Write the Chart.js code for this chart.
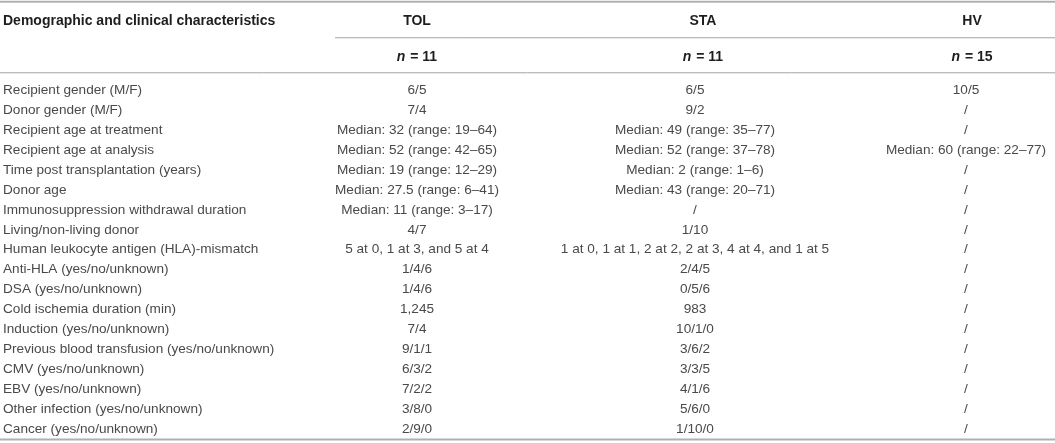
<!DOCTYPE html>
<html>
<head>
<meta charset="utf-8">
<script src="https://cdn.jsdelivr.net/npm/chart.js@4.4.1/dist/chart.umd.min.js"></script>
<style>
    body { margin: 0; background: #fff; }
    #wrap { width: 1055px; height: 443px; }
</style>
</head>
<body>
<div id="wrap"><canvas id="myChart" width="1055" height="443"></canvas></div>
<script>
// table content
const headerTitle = "Demographic and clinical characteristics";
const groupNames = ["TOL", "STA", "HV"];
const groupSizes = [11, 11, 15];

const characteristics = [
    "Recipient gender (M/F)",
    "Donor gender (M/F)",
    "Recipient age at treatment",
    "Recipient age at analysis",
    "Time post transplantation (years)",
    "Donor age",
    "Immunosuppression withdrawal duration",
    "Living/non-living donor",
    "Human leukocyte antigen (HLA)-mismatch",
    "Anti-HLA (yes/no/unknown)",
    "DSA (yes/no/unknown)",
    "Cold ischemia duration (min)",
    "Induction (yes/no/unknown)",
    "Previous blood transfusion (yes/no/unknown)",
    "CMV (yes/no/unknown)",
    "EBV (yes/no/unknown)",
    "Other infection (yes/no/unknown)",
    "Cancer (yes/no/unknown)"
];

const tolValues = [
    "6/5", "7/4",
    "Median: 32 (range: 19–64)",
    "Median: 52 (range: 42–65)",
    "Median: 19 (range: 12–29)",
    "Median: 27.5 (range: 6–41)",
    "Median: 11 (range: 3–17)",
    "4/7",
    "5 at 0, 1 at 3, and 5 at 4",
    "1/4/6", "1/4/6", "1,245", "7/4", "9/1/1", "6/3/2", "7/2/2", "3/8/0", "2/9/0"
];

const staValues = [
    "6/5", "9/2",
    "Median: 49 (range: 35–77)",
    "Median: 52 (range: 37–78)",
    "Median: 2 (range: 1–6)",
    "Median: 43 (range: 20–71)",
    "/",
    "1/10",
    "1 at 0, 1 at 1, 2 at 2, 2 at 3, 4 at 4, and 1 at 5",
    "2/4/5", "0/5/6", "983", "10/1/0", "3/6/2", "3/3/5", "4/1/6", "5/6/0", "1/10/0"
];

const hvValues = [
    "10/5", "/", "/",
    "Median: 60 (range: 22–77)",
    "/", "/", "/", "/", "/", "/", "/", "/", "/", "/", "/", "/", "/", "/"
];

// layout (scale units: x = pixels, y = row index)
const Y_MIN = -4.548;
const Y_MAX = 17.714;
const HEADER_Y = -3.5;
const N_Y = -1.69;
const LABEL_X = 3;
const DATA_X = [417, 695, 966];
const HEAD_X = [417, 703, 972];
const RULES = [
    { y: -4.46, x0: 0, x1: 1055, w: 2, c: "#b0b0b0" },
    { y: -2.65, x0: 335, x1: 1055, w: 1, c: "#a4a4a4" },
    { y: -0.89, x0: 0, x1: 1055, w: 1, c: "#a4a4a4" },
    { y: 17.54, x0: 0, x1: 1055, w: 2, c: "#b0b0b0" }
];

const BODY_FONT = "13.6px 'Liberation Sans', Arial, sans-serif";
const BOLD_FONT = "bold 14px 'Liberation Sans', Arial, sans-serif";
const ITALIC_BOLD_FONT = "italic bold 14px 'Liberation Sans', Arial, sans-serif";

const cellDataset = (texts, x, align) => ({
    data: texts.map((t, i) => ({ x: x, y: i })),
    texts: texts,
    align: align,
    pointRadius: 0,
    pointHoverRadius: 0
});

const ruleDatasets = RULES.map(r => ({
    data: [{ x: r.x0, y: r.y }, { x: r.x1, y: r.y }],
    showLine: true,
    borderColor: r.c,
    borderWidth: r.w,
    pointRadius: 0,
    pointHoverRadius: 0
}));

const cellText = {
    id: "cellText",
    afterDatasetsDraw(chart) {
        const ctx = chart.ctx;
        const xs = chart.scales.x;
        const ys = chart.scales.y;
        ctx.save();
        ctx.textBaseline = "middle";

        // body cells
        chart.data.datasets.forEach((ds, i) => {
            if (!ds.texts) return;
            ctx.font = BODY_FONT;
            ctx.fillStyle = "#4a4a4a";
            ctx.textAlign = ds.align;
            chart.getDatasetMeta(i).data.forEach((pt, j) => {
                ctx.fillText(ds.texts[j], pt.x, pt.y);
            });
        });

        // header row
        ctx.fillStyle = "#1e1e1e";
        ctx.font = BOLD_FONT;
        ctx.textAlign = "left";
        ctx.fillText(headerTitle, xs.getPixelForValue(LABEL_X), ys.getPixelForValue(HEADER_Y));
        ctx.textAlign = "center";
        groupNames.forEach((g, i) => {
            ctx.fillText(g, xs.getPixelForValue(HEAD_X[i]), ys.getPixelForValue(HEADER_Y));
        });

        // n = ... row
        groupSizes.forEach((n, i) => {
            const rest = " = " + n;
            ctx.font = ITALIC_BOLD_FONT;
            const w1 = ctx.measureText("n").width + 1;
            ctx.font = BOLD_FONT;
            const w2 = ctx.measureText(rest).width;
            const left = xs.getPixelForValue(HEAD_X[i]) - (w1 + w2) / 2;
            const y = ys.getPixelForValue(N_Y);
            ctx.textAlign = "left";
            ctx.font = ITALIC_BOLD_FONT;
            ctx.fillText("n", left, y);
            ctx.font = BOLD_FONT;
            ctx.fillText(rest, left + w1, y);
        });
        ctx.restore();
    }
};

new Chart("myChart", {
    type: "scatter",
    data: {
        datasets: [
            cellDataset(characteristics, LABEL_X, "left"),
            cellDataset(tolValues, DATA_X[0], "center"),
            cellDataset(staValues, DATA_X[1], "center"),
            cellDataset(hvValues, DATA_X[2], "center"),
            ...ruleDatasets
        ]
    },
    options: {
        responsive: false,
        animation: false,
        layout: { padding: 0 },
        scales: {
            x: { type: "linear", min: 0, max: 1055, display: false },
            y: { type: "linear", min: Y_MIN, max: Y_MAX, reverse: true, display: false }
        },
        plugins: {
            legend: { display: false },
            tooltip: { enabled: false }
        },
        events: []
    },
    plugins: [cellText]
});
</script>
</body>
</html>
